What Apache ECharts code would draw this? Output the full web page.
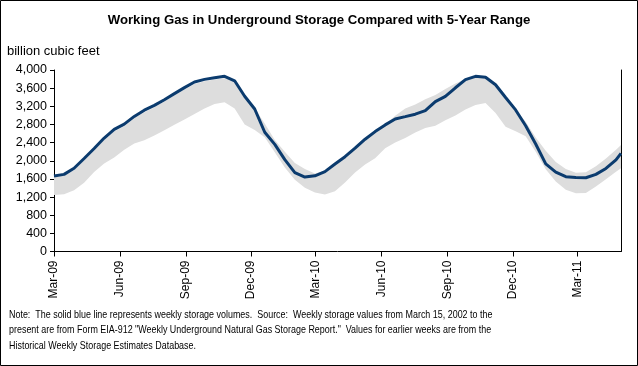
<!DOCTYPE html>
<html>
<head>
<meta charset="utf-8">
<script src="https://cdn.jsdelivr.net/npm/echarts@6/dist/echarts.min.js"></script>
<style>
html,body{margin:0;padding:0;background:#fff;}
#chart{width:638px;height:366px;}
</style>
</head>
<body>
<div id="chart"></div>
<script>
// ---- data ----
const dates = ['2009-03-01','2009-03-15','2009-03-29','2009-04-12','2009-04-26','2009-05-10','2009-05-24','2009-06-07','2009-06-21','2009-07-05',
'2009-07-19','2009-08-02','2009-08-16','2009-08-30','2009-09-13','2009-09-27','2009-10-11','2009-10-25','2009-11-08','2009-11-22',
'2009-12-06','2009-12-20','2010-01-03','2010-01-17','2010-01-31','2010-02-14','2010-02-28','2010-03-14','2010-03-28','2010-04-11',
'2010-04-25','2010-05-09','2010-05-23','2010-06-06','2010-06-20','2010-07-04','2010-07-18','2010-08-01','2010-08-15','2010-08-29',
'2010-09-12','2010-09-26','2010-10-10','2010-10-24','2010-11-07','2010-11-21','2010-12-05','2010-12-19','2011-01-02','2011-01-16',
'2011-01-30','2011-02-13','2011-02-27','2011-03-13','2011-03-27','2011-04-10','2011-04-24','2011-05-01'];

const storage = [1664,1700,1835,2050,2270,2500,2690,2806,2977,3115,
3220,3345,3480,3612,3737,3793,3830,3860,3762,3421,
3140,2628,2361,2024,1738,1640,1668,1760,1929,2090,
2276,2475,2643,2790,2921,2972,3026,3103,3304,3420,
3608,3787,3860,3840,3675,3395,3120,2770,2370,1930,
1750,1648,1630,1625,1700,1830,2020,2164];

const rangeMax = [1640,1670,1790,2010,2230,2460,2650,2760,2935,3070,
3180,3305,3440,3570,3690,3750,3790,3820,3780,3450,
3150,2820,2455,2196,1949,1820,1720,1780,1935,2095,
2280,2480,2650,2800,2990,3150,3240,3355,3450,3580,
3700,3800,3860,3845,3680,3400,3125,2860,2510,2220,
1970,1820,1735,1744,1880,2050,2240,2347];

const rangeMin = [1245,1260,1350,1515,1750,1940,2070,2240,2380,2450,
2555,2670,2795,2908,3033,3150,3250,3290,3150,2800,
2680,2520,2190,1850,1580,1405,1300,1255,1330,1520,
1740,1916,2055,2276,2400,2500,2625,2720,2770,2890,
3000,3130,3230,3270,3050,2750,2650,2540,2200,1813,
1540,1360,1283,1290,1430,1590,1760,1834];

const xTickDates = ['2009-03-01','2009-06-01','2009-09-01','2009-12-01','2010-03-01','2010-06-01','2010-09-01','2010-12-01','2011-03-01'];
const xTickLabels = ['Mar-09','Jun-09','Sep-09','Dec-09','Mar-10','Jun-10','Sep-10','Dec-10','Mar-11'];
const xMin = '2009-03-01';
const xMax = '2011-05-01';

const titleText = 'Working Gas in Underground Storage Compared with 5-Year Range';
const unitText = 'billion cubic feet';
const noteLines = [
 'Note:  The solid blue line represents weekly storage volumes.  Source:  Weekly storage values from March 15, 2002 to the',
 'present are from Form EIA-912 "Weekly Underground Natural Gas Storage Report."  Values for earlier weeks are from the',
 'Historical Weekly Storage Estimates Database.'
];

// ---- build ----
// dates are converted to day numbers so a linear value axis acts as a calendar axis
function toDay(s){
  const p = s.split('-').map(Number);
  return Math.round(Date.UTC(p[0], p[1]-1, p[2]) / 86400000);
}
const tickDays = xTickDates.map(toDay);
function labelFor(v){
  let best = 0, bd = Infinity;
  tickDays.forEach((t,i)=>{ const d = Math.abs(t - v); if (d < bd){bd = d; best = i;} });
  return xTickLabels[best];
}
const bandData = dates.map((d,i)=>[toDay(d), rangeMin[i], rangeMax[i]]);
const lineData = dates.map((d,i)=>[toDay(d), storage[i]]);

function renderBand(params, api){
  if (params.dataIndex !== 0) return null;
  const top = [], bottom = [];
  for (let i = 0; i < bandData.length; i++){
    top.push(api.coord([bandData[i][0], bandData[i][2]]));
    bottom.push(api.coord([bandData[i][0], bandData[i][1]]));
  }
  const pts = top.concat(bottom.reverse());
  return {
    type:'polygon',
    shape:{points:pts},
    style:{fill:'#dddddd', stroke:null},
    silent:true
  };
}

const FONT = '"Liberation Sans", Arial, sans-serif';
const chart = echarts.init(document.getElementById('chart'), null, {renderer:'canvas'});
chart.setOption({
  backgroundColor:'#ffffff',
  animation:false,
  textStyle:{fontFamily:FONT},
  title:{
    text:titleText, left:'center', top:9,
    textStyle:{fontFamily:FONT, fontSize:13.2, fontWeight:'bold', color:'#000'}
  },
  grid:{left:54, top:70, width:567, height:181.5, containLabel:false},
  xAxis:{
    type:'value', min:toDay(xMin), max:toDay(xMax),
    axisLine:{show:true, onZero:false, lineStyle:{color:'#000', width:1}},
    axisTick:{show:true, customValues:tickDays, length:5, lineStyle:{color:'#000'}},
    axisLabel:{customValues:tickDays, rotate:90, margin:9, fontSize:12, color:'#000', fontFamily:FONT,
      formatter:function(v){ return labelFor(v); }},
    splitLine:{show:false}
  },
  yAxis:[{
    type:'value', min:0, max:4000, interval:400,
    axisLine:{show:true, lineStyle:{color:'#000', width:1}},
    axisTick:{show:true, length:4, lineStyle:{color:'#000'}},
    axisLabel:{margin:7, fontSize:12.5, color:'#000', fontFamily:FONT,
      formatter:function(v){ return v.toLocaleString('en-US'); }},
    splitLine:{show:false}
  },{
    type:'value', min:0, max:4000, interval:400, position:'right',
    axisLine:{show:true, lineStyle:{color:'#000', width:1}},
    axisTick:{show:false}, axisLabel:{show:false}, splitLine:{show:false}
  }],
  graphic:[
    {type:'rect', shape:{x:0.5, y:0.5, width:637, height:365}, style:{fill:'none', stroke:'#000', lineWidth:1}, z:100},
    {type:'text', left:7, top:45, style:{text:unitText, fontFamily:FONT, fontSize:13, fill:'#000'}},
    {type:'text', x:9, y:307, scaleX:0.812, style:{text:noteLines.join('\n'), fontFamily:FONT, fontSize:11, lineHeight:15.5, fill:'#000'}}
  ],
  series:[
    {type:'custom', name:'5-year range', data:bandData, renderItem:renderBand,
      encode:{x:0, y:[1,2]}, clip:true, silent:true, z:1},
    {type:'line', name:'storage', data:lineData, showSymbol:false, symbol:'none',
      lineStyle:{width:3, color:'#0b3b6e'}, z:5}
  ]
});
</script>
</body>
</html>
